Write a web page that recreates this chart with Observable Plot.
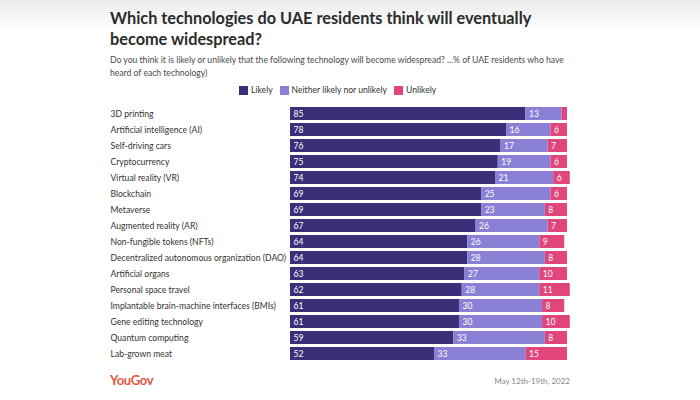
<!DOCTYPE html>
<html>
<head>
<meta charset="utf-8">
<script src="https://cdn.jsdelivr.net/npm/d3@7"></script>
<script src="https://cdn.jsdelivr.net/npm/@observablehq/plot@0.6"></script>
<style>
  html, body { margin: 0; padding: 0; }
  body { width: 700px; height: 400px; background: linear-gradient(#ebebeb 0px, #ffffff 32px); font-family: "Lato", "Open Sans", sans-serif; position: relative; overflow: hidden; }
  #title { position: absolute; left: 110px; top: 7px; width: 480px; font-size: 16.3px; font-weight: 700; color: #2b2b2b; line-height: 21px; }
  #subtitle { position: absolute; left: 110px; top: 54px; width: 470px; font-size: 8.6px; color: #4a4a4a; line-height: 12.5px; }
  #legend { position: absolute; left: 239px; top: 85px; font-size: 8.6px; color: #333; display: flex; align-items: center; }
  #legend span.sw { display: inline-block; width: 9px; height: 9px; margin-right: 3px; }
  #legend span.item { display: inline-flex; align-items: center; margin-right: 7px; }
  #chart { position: absolute; left: 0; top: 100px; }
  #logo { position: absolute; left: 110px; top: 372px; font-size: 13px; font-weight: 700; color: #e8543f; letter-spacing: -0.3px; }
  #date { position: absolute; right: 130px; top: 376px; font-size: 8px; color: #888; }
</style>
</head>
<body>
<div id="title">Which technologies do UAE residents think will eventually become widespread?</div>
<div id="subtitle">Do you think it is likely or unlikely that the following technology will become widespread? ...% of UAE residents who have heard of each technology)</div>
<div id="legend"></div>
<div id="chart"></div>
<div id="logo">YouGov</div>
<div id="date">May 12th-19th, 2022</div>
<script>
const technologies = ["3D printing","Artificial intelligence (AI)","Self-driving cars","Cryptocurrency","Virtual reality (VR)","Blockchain","Metaverse","Augmented reality (AR)","Non-fungible tokens (NFTs)","Decentralized autonomous organization (DAO)","Artificial organs","Personal space travel","Implantable brain-machine interfaces (BMIs)","Gene editing technology","Quantum computing","Lab-grown meat"];
const likely   = [85,78,76,75,74,69,69,67,64,64,63,62,61,61,59,52];
const neither  = [13,16,17,19,21,25,23,26,26,28,27,28,30,30,33,33];
const unlikely = [2,6,7,6,6,6,8,7,9,8,10,11,8,10,8,15];
const responses = ["Likely","Neither likely nor unlikely","Unlikely"];
const colors = ["#3a2f78","#8a80d6","#e0457b"];

const series = [likely, neither, unlikely];
const data = [];
technologies.forEach((t, i) => {
  responses.forEach((r, j) => data.push({tech: t, response: r, value: series[j][i]}));
});

const legend = document.getElementById("legend");
responses.forEach((r, j) => {
  const item = document.createElement("span");
  item.className = "item";
  item.innerHTML = `<span class="sw" style="background:${colors[j]}"></span>${r}`;
  legend.appendChild(item);
});

const chart = Plot.plot({
  width: 700,
  height: 265,
  marginLeft: 290,
  marginRight: 133,
  marginTop: 3,
  marginBottom: 2,
  style: {fontFamily: "Lato, 'Open Sans', sans-serif", background: "transparent"},
  x: {domain: [0, 100], axis: null},
  y: {domain: technologies, axis: null, padding: 0.2},
  color: {domain: responses, range: colors},
  marks: [
    Plot.barX(data, Plot.stackX({x: "value", y: "tech", fill: "response", order: responses})),
    Plot.text(data, Plot.stackX1({x: "value", y: "tech", z: "response", order: responses,
      text: d => d.value >= 3 ? String(d.value) : "",
      textAnchor: "start", dx: 3, fill: "white", fontSize: 8.5})),
    Plot.text(technologies, {y: d => d, text: d => d, frameAnchor: "left", textAnchor: "start", dx: -180, fill: "#333", fontSize: 8.6})
  ]
});
document.getElementById("chart").appendChild(chart);
</script>
</body>
</html>
